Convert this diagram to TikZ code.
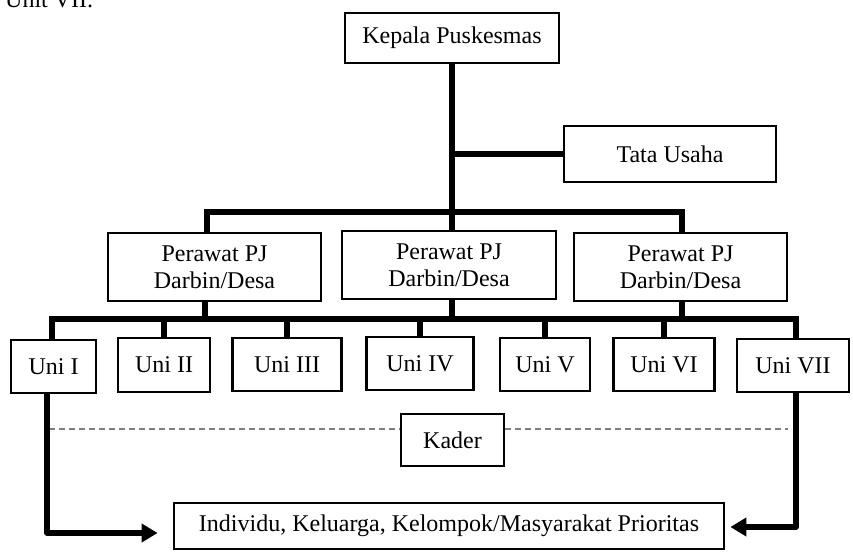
\documentclass[tikz,border=0pt]{standalone}
\usepackage{fontspec}
\setmainfont{Liberation Serif}
\usetikzlibrary{arrows.meta}
\begin{document}
\begin{tikzpicture}[x=1pt,y=-1pt,
  box/.style={draw, line width=2.8pt, inner sep=0pt, align=center, fill=white,
    font=\fontsize{24}{27}\selectfont},
  conn/.style={line width=5.5pt, line join=miter},
  arr/.style={line width=5.5pt, line join=round, -{Triangle[length=16pt,width=18pt]}},
  dashline/.style={gray, line width=1.2pt, dash pattern=on 6pt off 4pt}]
\useasboundingbox (0,0) rectangle (853,554);
\begin{scope}
\clip (0,0) rectangle (853,554);
\node[anchor=base west, inner sep=0pt, font=\fontsize{24}{27}\selectfont] (cut) at (5,8) {Unit VII.};
\end{scope}
% nodes
\node[box, minimum width=214pt, minimum height=50pt] (kepala) at (452,38) {Kepala Puskesmas};
\node[box, minimum width=212pt, minimum height=56pt] (tata) at (670,154) {Tata Usaha};
\node[box, minimum width=213pt, minimum height=68pt] (pj1) at (214.5,267) {Perawat PJ\\Darbin/Desa};
\node[box, minimum width=214pt, minimum height=68pt] (pj2) at (449,265) {Perawat PJ\\Darbin/Desa};
\node[box, minimum width=213pt, minimum height=68pt] (pj3) at (680.5,267) {Perawat PJ\\Darbin/Desa};
\node[box, minimum width=85pt, minimum height=53pt] (uni1) at (53.5,366.5) {Uni I};
\node[box, minimum width=92pt, minimum height=54pt] (uni2) at (164,365) {Uni II};
\node[box, minimum width=109pt, minimum height=53pt] (uni3) at (287,364.5) {Uni III};
\node[box, minimum width=107pt, minimum height=53pt] (uni4) at (420,363.5) {Uni IV};
\node[box, minimum width=90pt, minimum height=53pt] (uni5) at (545,364.5) {Uni V};
\node[box, minimum width=101pt, minimum height=53pt] (uni6) at (664,364.5) {Uni VI};
\node[box, minimum width=112pt, minimum height=53pt] (uni7) at (793,365.5) {Uni VII};
\node[box, minimum width=103pt, minimum height=52pt] (kader) at (452.5,440) {Kader};
\node[box, minimum width=550pt, minimum height=46pt] (bottom) at (449,526) {Individu, Keluarga, Kelompok/Masyarakat Prioritas};
% coordinates for bus lines
\coordinate (d1) at (207,212);
\coordinate (d3) at (682,212);
\coordinate (e1) at (52,319);
\coordinate (e7) at (796,319);
\coordinate (p1) at (205,319);
\coordinate (p3) at (682,319);
\coordinate (dl) at (49,429);
\coordinate (dr) at (788,429);
% connectors
\draw[conn] (kepala.south) -- (kepala.south |- pj2.north);
\draw[conn] (kepala.south |- tata.west) -- (tata.west);
\draw[conn] (d1 |- pj1.north) -- (d1) -- (d3) -- (d3 |- pj3.north);
\draw[conn] (e1 |- uni1.north) -- (e1) -- (e7) -- (e7 |- uni7.north);
\draw[conn] (p1 |- pj1.south) -- (p1);
\draw[conn] (kepala.south |- pj2.south) -- (kepala.south |- e1);
\draw[conn] (p3 |- pj3.south) -- (p3);
\foreach \u in {uni2,uni3,uni4,uni5,uni6}{
  \draw[conn] (\u.north) -- (\u.north |- e1);
}
% dashed line
\draw[dashline] (dl) -- (dl -| kader.west);
\draw[dashline] (dr -| kader.east) -- (dr);
% arrows
\draw[arr] ([xshift=-6.5pt]uni1.south) |- ([yshift=-7pt, xshift=-15pt]bottom.west);
\draw[arr] ([xshift=3pt]uni7.south) |- ([yshift=-1pt, xshift=5pt]bottom.east);
\end{tikzpicture}
\end{document}
